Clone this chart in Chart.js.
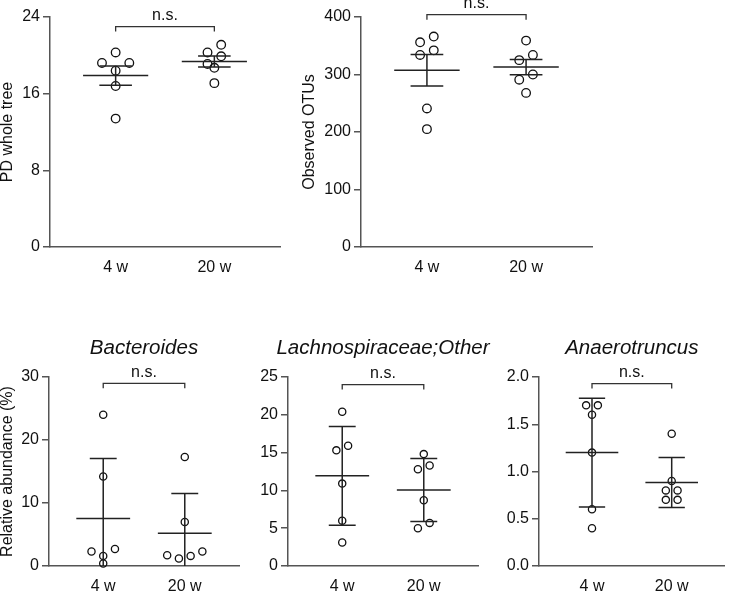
<!DOCTYPE html>
<html>
<head>
<meta charset="utf-8">
<script src="https://cdn.jsdelivr.net/npm/chart.js@4.4.1/dist/chart.umd.min.js"></script>
<style>
  html, body { margin: 0; padding: 0; background: #fff; }
  body { width: 730px; height: 591px; position: relative; overflow: hidden; }
  canvas { position: absolute; }
</style>
</head>
<body>
<canvas id="pdChart" width="290" height="280" style="left:0;top:0"></canvas>
<canvas id="otuChart" width="304" height="280" style="left:296px;top:0"></canvas>
<canvas id="bactChart" width="250" height="271" style="left:0;top:320px"></canvas>
<canvas id="lachnoChart" width="255" height="271" style="left:240px;top:320px"></canvas>
<canvas id="anaeroChart" width="240" height="271" style="left:490px;top:320px"></canvas>

<script>
// —————— DATA ——————
const groups = ['4 w', '20 w'];

// alpha diversity (mean ± SEM)
const pdWholeTree4w = [20.3, 19.2, 19.2, 18.4, 16.8, 13.4];
const pdWholeTree20w = [21.1, 20.3, 19.9, 19.1, 18.7, 17.1];
const observedOtus4w = [366, 356, 342, 334, 241, 205];
const observedOtus20w = [359, 334, 325, 300, 291, 268];

// relative abundance in % (mean ± SD)
const bacteroides4w = [24.0, 14.2, 2.7, 2.3, 1.6, 0.4];
const bacteroides20w = [17.3, 7.0, 2.3, 1.7, 1.6, 1.2];
const lachnoOther4w = [20.4, 15.9, 15.3, 10.9, 6.0, 3.1];
const lachnoOther20w = [14.8, 13.3, 12.8, 8.7, 5.7, 5.0];
const anaerotruncus4w = [1.7, 1.7, 1.6, 1.2, 0.6, 0.4];
const anaerotruncus20w = [1.4, 0.9, 0.8, 0.8, 0.7, 0.7];

// y tick values
const pdTicks = [0, 8, 16, 24];
const otuTicks = [0, 100, 200, 300, 400];
const bactTicks = [0, 10, 20, 30];
const lachnoTicks = [0, 5, 10, 15, 20, 25];
const anaeroTicks = [0, 0.5, 1.0, 1.5, 2.0];

const FONT = '"Liberation Sans", Arial, Helvetica, sans-serif';
Chart.defaults.font.family = FONT;
Chart.defaults.color = '#111';

const AXIS = '#555';
const INK = '#222';

function mean(a) { return a.reduce((s, v) => s + v, 0) / a.length; }
function sd(a) {
  const m = mean(a);
  return Math.sqrt(a.reduce((s, v) => s + (v - m) * (v - m), 0) / (a.length - 1));
}

// —————— n.s. bracket + italic panel title ——————
const decorPlugin = {
  id: 'decor',
  afterDatasetsDraw(chart, args, opts) {
    const { ctx, chartArea, scales: { x, y } } = chart;
    const x1 = x.getPixelForValue(1), x2 = x.getPixelForValue(2);
    const yy = y.getPixelForValue(opts.bracket);
    ctx.save();
    ctx.strokeStyle = '#333';
    ctx.lineWidth = 1.3;
    ctx.beginPath();
    ctx.moveTo(x1, yy + 5); ctx.lineTo(x1, yy); ctx.lineTo(x2, yy); ctx.lineTo(x2, yy + 5);
    ctx.stroke();
    ctx.fillStyle = '#111';
    ctx.font = '16px ' + FONT;
    ctx.textAlign = 'center';
    ctx.textBaseline = 'alphabetic';
    ctx.fillText(opts.label, (x1 + x2) / 2, yy - 6.5);
    if (opts.title) {
      ctx.font = 'italic 20.5px ' + FONT;
      ctx.textBaseline = 'middle';
      ctx.fillText(opts.title, (chartArea.left + chartArea.right) / 2, chartArea.top - 29);
    }
    ctx.restore();
  }
};

// mean line + error bar drawn as one broken line dataset
function summaryLine(vals, center, useSem) {
  const m = mean(vals);
  const e = useSem ? sd(vals) / Math.sqrt(vals.length) : sd(vals);
  const hi = m + e, lo = m - e;
  return {
    data: [
      { x: center - 0.165, y: hi }, { x: center + 0.165, y: hi }, { x: center, y: null },
      { x: center, y: hi }, { x: center, y: lo }, { x: center, y: null },
      { x: center - 0.165, y: lo }, { x: center + 0.165, y: lo }, { x: center, y: null },
      { x: center - 0.33, y: m }, { x: center + 0.33, y: m }
    ],
    showLine: true,
    spanGaps: false,
    borderColor: INK,
    borderWidth: 1.5,
    pointRadius: 0,
    clip: { left: false, top: false, right: false, bottom: 0 }
  };
}

function pointSet(vals, center, radius) {
  return {
    isPoints: true,
    data: vals.map(v => ({ x: center, y: v, cx: center })),
    pointRadius: radius,
    pointBorderWidth: 1.3,
    pointBorderColor: '#111',
    pointBackgroundColor: 'rgba(0,0,0,0)',
    clip: false
  };
}

// spread overlapping points sideways, rows centred on the group
function spreadPoints(chart, radius) {
  const xs = chart.scales.x, ys = chart.scales.y;
  const unit = xs.getPixelForValue(2) - xs.getPixelForValue(1);
  const diam = 2 * radius + 1.3;
  const slot = diam * 1.38 / unit;
  chart.data.datasets.forEach(ds => {
    if (!ds.isPoints) return;
    const pts = ds.data.map(p => ({ x: p.cx, y: p.y, cx: p.cx }))
      .sort((a, b) => b.y - a.y);
    let i = 0;
    while (i < pts.length) {
      const top = ys.getPixelForValue(pts[i].y);
      let j = i + 1;
      while (j < pts.length && ys.getPixelForValue(pts[j].y) - top < diam) j++;
      const n = j - i;
      const slots = [];
      for (let k = n - 1; k > 0; k -= 2) slots.push(k / 2, -k / 2);
      if (n % 2) slots.push(0);
      for (let k = 0; k < n; k++) pts[i + k].x = pts[i + k].cx + slots[k] * slot;
      i = j;
    }
    ds.data = pts;
  });
  chart.update('none');
}

function makePanel(cfg) {
  const datasets = [
    summaryLine(cfg.a, 1, cfg.sem),
    summaryLine(cfg.b, 2, cfg.sem),
    pointSet(cfg.a, 1, cfg.radius),
    pointSet(cfg.b, 2, cfg.radius)
  ];
  const chart = new Chart(document.getElementById(cfg.id), {
    type: 'scatter',
    data: { datasets },
    plugins: [decorPlugin],
    options: {
      responsive: false,
      animation: false,
      layout: { padding: cfg.padding },
      plugins: {
        legend: { display: false },
        tooltip: { enabled: false },
        decor: { bracket: cfg.bracket, label: 'n.s.', title: cfg.title }
      },
      scales: {
        x: {
          type: 'linear',
          min: 0.335,
          max: 2.665,
          afterBuildTicks: s => { s.ticks = groups.map((g, i) => ({ value: i + 1 })); },
          afterFit: s => { s.height = cfg.xHeight; },
          ticks: {
            callback: v => groups[v - 1],
            font: { size: 16 },
            padding: cfg.xPad,
            maxRotation: 0
          },
          grid: { display: true, drawOnChartArea: false, drawTicks: false },
          border: { display: true, color: AXIS, width: 1.5 }
        },
        y: {
          min: cfg.ticks[0],
          max: cfg.ticks[cfg.ticks.length - 1],
          afterBuildTicks: s => { s.ticks = cfg.ticks.map(v => ({ value: v })); },
          afterFit: s => { s.width = cfg.yWidth; },
          ticks: {
            callback: v => v.toFixed(cfg.decimals || 0),
            font: { size: 16 },
            padding: 3
          },
          grid: {
            display: true, drawOnChartArea: false, drawTicks: true,
            tickLength: 7, color: AXIS, lineWidth: 1.5
          },
          border: { display: true, color: AXIS, width: 1.5 },
          title: {
            display: !!cfg.yTitle,
            text: cfg.yTitle,
            font: { size: 16, lineHeight: 1 },
            padding: { top: cfg.yTitlePad || 0, bottom: 0 },
            color: '#111'
          }
        }
      }
    }
  });
  spreadPoints(chart, cfg.radius);
  return chart;
}

// —————— TOP ROW ——————
makePanel({
  id: 'pdChart', a: pdWholeTree4w, b: pdWholeTree20w, sem: true, radius: 4.3,
  ticks: pdTicks, yTitle: 'PD whole tree', bracket: 23,
  padding: { top: 17, right: 10, left: 0, bottom: 0 }, yWidth: 50, xHeight: 33, xPad: 11
});
makePanel({
  id: 'otuChart', a: observedOtus4w, b: observedOtus20w, sem: true, radius: 4.3,
  ticks: otuTicks, yTitle: 'Observed OTUs', yTitlePad: 5.5, bracket: 404,
  padding: { top: 17, right: 8, left: 0, bottom: 0 }, yWidth: 65, xHeight: 33, xPad: 11
});

// —————— BOTTOM ROW ——————
makePanel({
  id: 'bactChart', a: bacteroides4w, b: bacteroides20w, sem: false, radius: 3.6,
  ticks: bactTicks, yTitle: 'Relative abundance (%)', title: 'Bacteroides', bracket: 29,
  padding: { top: 57, right: 11, left: 0, bottom: 0 }, yWidth: 49, xHeight: 25, xPad: 11
});
makePanel({
  id: 'lachnoChart', a: lachnoOther4w, b: lachnoOther20w, sem: false, radius: 3.6,
  ticks: lachnoTicks, title: 'Lachnospiraceae;Other', bracket: 24,
  padding: { top: 57, right: 17, left: 0, bottom: 0 }, yWidth: 48, xHeight: 25, xPad: 11
});
makePanel({
  id: 'anaeroChart', a: anaerotruncus4w, b: anaerotruncus20w, sem: false, radius: 3.6,
  ticks: anaeroTicks, decimals: 1, title: 'Anaerotruncus', bracket: 1.93,
  padding: { top: 57, right: 1, left: 0, bottom: 0 }, yWidth: 49, xHeight: 25, xPad: 11
});
</script>
</body>
</html>
